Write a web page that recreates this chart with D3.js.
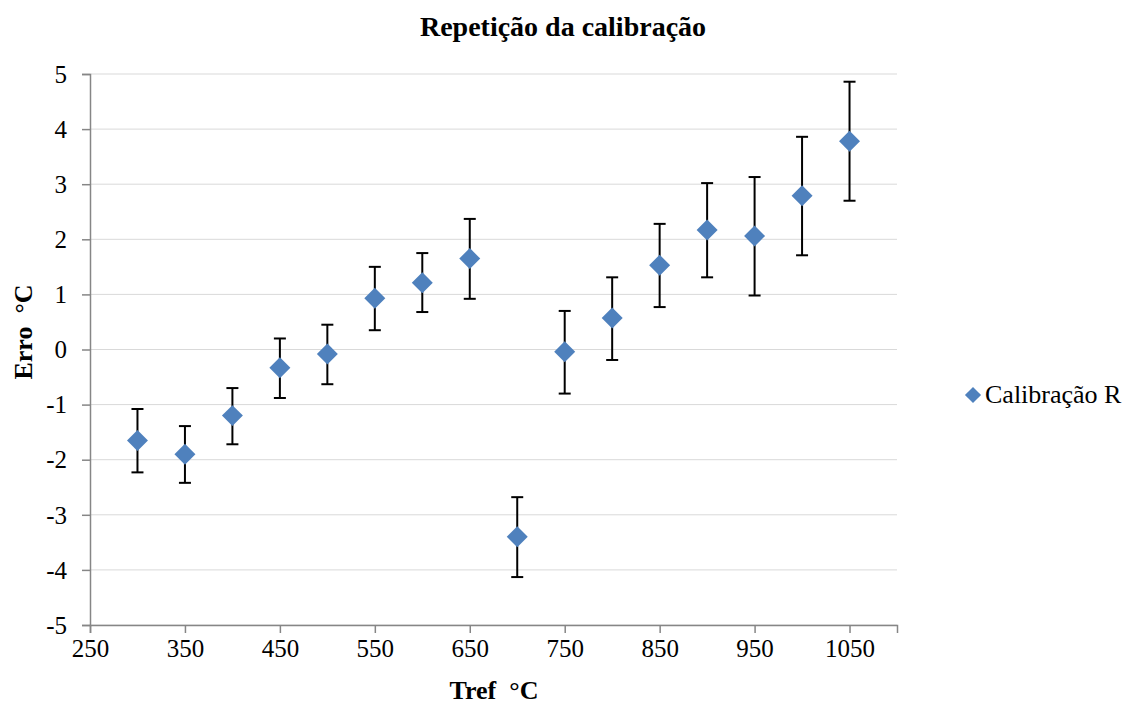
<!DOCTYPE html>
<html>
<head>
<meta charset="utf-8">
<script src="https://cdn.jsdelivr.net/npm/d3@7"></script>
<style>
  body { margin: 0; background: #fff; }
  text { font-family: "Liberation Serif", "Times New Roman", serif; }
</style>
</head>
<body>
<svg id="chart"></svg>
<script>
// Tref (°C)
var tref = [300, 350, 400, 450, 500, 550, 600, 650, 700, 750, 800, 850, 900, 950, 1000, 1050];
// erro medio (°C)
var erro = [-1.65, -1.9, -1.2, -0.33, -0.08, 0.93, 1.21, 1.65, -3.4, -0.04, 0.57, 1.53, 2.17, 2.06, 2.79, 3.78];
// limites das barras de erro
var erroSup = [-1.08, -1.39, -0.7, 0.2, 0.45, 1.5, 1.75, 2.37, -2.68, 0.7, 1.31, 2.28, 3.02, 3.13, 3.86, 4.86];
var erroInf = [-2.23, -2.42, -1.72, -0.88, -0.63, 0.35, 0.68, 0.92, -4.13, -0.8, -0.19, 0.77, 1.31, 0.98, 1.71, 2.7];

var xTicks = [250, 350, 450, 550, 650, 750, 850, 950, 1050];
var yTicks = [-5, -4, -3, -2, -1, 0, 1, 2, 3, 4, 5];

var seriesName = 'Calibração R';
var title = 'Repetição da calibração';

function main() {
    const width = 1129;
    const height = 707;
    const left = 90, right = 897, top = 74, bottom = 625;
    const color = '#4F81BD';

    const svg = d3.select('#chart')
        .attr('width', width)
        .attr('height', height);

    var x = d3.scaleLinear().domain([250, 1100]).range([left, right]);
    var y = d3.scaleLinear().domain([-5, 5]).range([bottom, top]);

    // gridlines
    svg.append('g')
        .selectAll('line')
        .data(yTicks)
        .join('line')
        .attr('x1', left)
        .attr('x2', right)
        .attr('y1', d => y(d))
        .attr('y2', d => y(d))
        .attr('stroke', '#d9d9d9')
        .attr('stroke-width', 1);

    // axes
    var yAxis = svg.append('g')
        .attr('transform', 'translate(' + left + ',0)')
        .call(d3.axisLeft(y).tickValues(yTicks).tickSize(8).tickPadding(15).tickFormat(d => String(d)));
    var xAxis = svg.append('g')
        .attr('transform', 'translate(0,' + bottom + ')')
        .call(d3.axisBottom(x).tickValues(xTicks).tickSize(8).tickPadding(6).tickFormat(d => String(d)));

    [xAxis, yAxis].forEach(function(a) {
        a.select('.domain').attr('stroke', '#868686').attr('stroke-width', 1.5);
        a.selectAll('.tick line').attr('stroke', '#868686').attr('stroke-width', 1.5);
        a.selectAll('.tick text')
            .attr('fill', '#000')
            .style('font-size', '25px')
            .style('font-family', '"Liberation Serif", serif');
    });
    yAxis.selectAll('.tick text').attr('dy', '0.33em');

    // error bars
    var bars = svg.append('g')
        .selectAll('g')
        .data(tref)
        .join('g');
    bars.append('line')
        .attr('x1', d => x(d)).attr('x2', d => x(d))
        .attr('y1', (d, i) => y(erroSup[i]))
        .attr('y2', (d, i) => y(erroInf[i]))
        .attr('stroke', '#000').attr('stroke-width', 2);
    bars.append('line')
        .attr('x1', d => x(d) - 6).attr('x2', d => x(d) + 6)
        .attr('y1', (d, i) => y(erroSup[i]))
        .attr('y2', (d, i) => y(erroSup[i]))
        .attr('stroke', '#000').attr('stroke-width', 2);
    bars.append('line')
        .attr('x1', d => x(d) - 6).attr('x2', d => x(d) + 6)
        .attr('y1', (d, i) => y(erroInf[i]))
        .attr('y2', (d, i) => y(erroInf[i]))
        .attr('stroke', '#000').attr('stroke-width', 2);

    // markers
    var diamond = d3.symbol().type(d3.symbolSquare).size(220);
    svg.append('g')
        .selectAll('path')
        .data(tref)
        .join('path')
        .attr('d', diamond)
        .attr('transform', (d, i) => 'translate(' + x(d) + ',' + y(erro[i]) + ') rotate(45)')
        .attr('fill', color);

    // title
    svg.append('text')
        .attr('x', 563).attr('y', 36)
        .attr('text-anchor', 'middle')
        .style('font-size', '28px').style('font-weight', 'bold')
        .text(title);

    // axis titles
    svg.append('text')
        .attr('x', 494).attr('y', 699)
        .attr('text-anchor', 'middle')
        .style('font-size', '26px').style('font-weight', 'bold')
        .attr('xml:space', 'preserve')
        .text('Tref  °C');
    svg.append('text')
        .attr('transform', 'translate(32,332) rotate(-90)')
        .attr('text-anchor', 'middle')
        .style('font-size', '26px').style('font-weight', 'bold')
        .attr('xml:space', 'preserve')
        .text('Erro  °C');

    // legend
    var legend = svg.append('g').attr('transform', 'translate(973,395)');
    legend.append('path')
        .attr('d', d3.symbol().type(d3.symbolSquare).size(130))
        .attr('transform', 'rotate(45)')
        .attr('fill', color);
    legend.append('text')
        .attr('x', 12).attr('y', 8)
        .style('font-size', '26px')
        .text(seriesName);
}
main();
</script>
</body>
</html>
